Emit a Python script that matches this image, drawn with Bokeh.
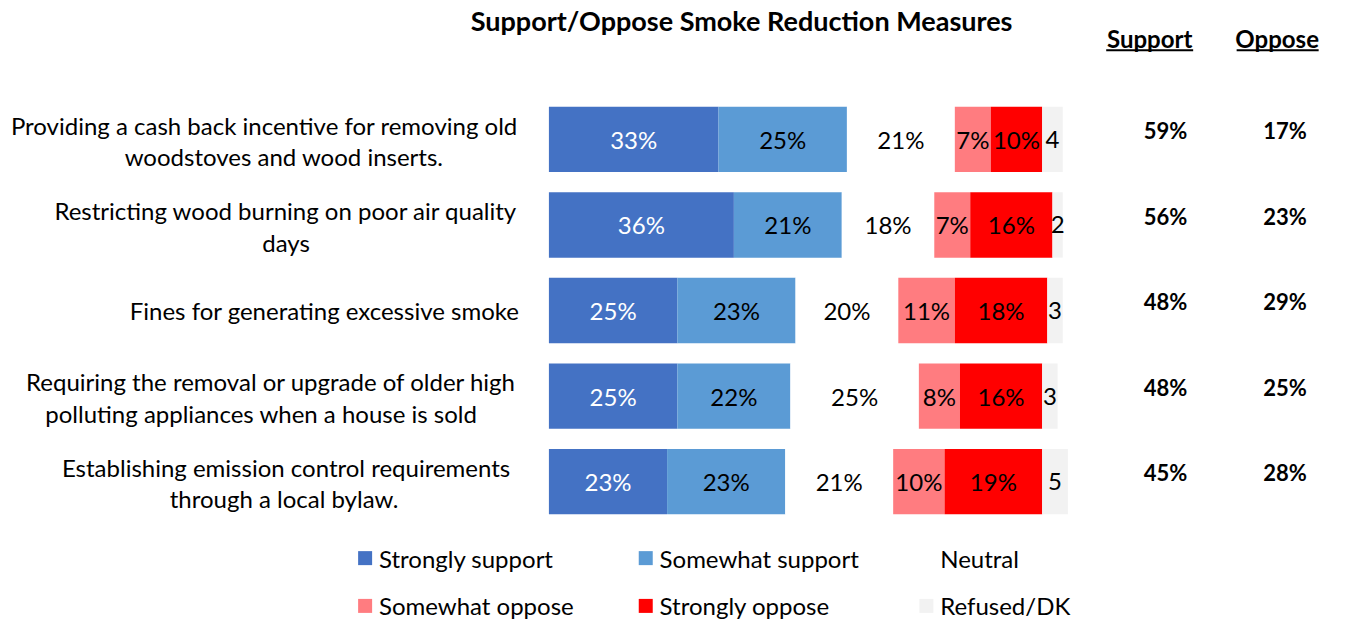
from bokeh.plotting import figure
from bokeh.models import Range1d, ColumnDataSource
from bokeh.core.properties import value
from bokeh.embed import file_html
from bokeh.resources import INLINE

# ---------------- data ----------------
title = "Support/Oppose Smoke Reduction Measures"
item_lines = [
    ["Providing a cash back incentive for removing old", "woodstoves and wood inserts."],
    ["Restricting wood burning on poor air quality", "days"],
    ["Fines for generating excessive smoke"],
    ["Requiring the removal or upgrade of older high", "polluting appliances when a house is sold"],
    ["Establishing emission control requirements", "through a local bylaw."],
]
categories = ["Strongly support", "Somewhat support", "Neutral",
              "Somewhat oppose", "Strongly oppose", "Refused/DK"]
strongly_support = [33, 36, 25, 25, 23]
somewhat_support = [25, 21, 23, 22, 23]
neutral = [21, 18, 20, 25, 21]
somewhat_oppose = [7, 7, 11, 8, 10]
strongly_oppose = [10, 16, 18, 16, 19]
refused = [4, 2, 3, 3, 5]
support_totals = [59, 56, 48, 48, 45]
oppose_totals = [17, 23, 29, 25, 28]
col_headers = ["Support", "Oppose"]
colors = ["#4472C4", "#5B9BD5", "#FFFFFF", "#FF7C80", "#FF0000", "#F2F2F2"]

# ---------------- layout helpers (reference pixels -> data) ----------------
W, H = 1331, 621
REF_W, REF_H = 1347, 637
X0, PPU = 555.0, 5.2          # reference x of 0 %, pixels per %
ROW0, ROWSTEP = 142.5, 87.75  # reference y of first row centre, row step
def dx(px): return (px - X0) / PPU
def dy(py): return (py - ROW0) / ROWSTEP

FONT = value("Lato")
FS = "24px"

p = figure(width=W, height=H, x_range=Range1d(dx(0), dx(REF_W)),
           y_range=Range1d(dy(REF_H), dy(0)),
           x_axis_type=None, y_axis_type=None,
           output_backend="svg", toolbar_location=None, min_border=0)
p.grid.visible = False
p.outline_line_color = None
p.background_fill_color = "white"

series = [strongly_support, somewhat_support, neutral,
          somewhat_oppose, strongly_oppose, refused]
n = len(item_lines)
data = {"y": list(range(n))}
for c, s in zip(categories, series):
    data[c] = s
src = ColumnDataSource(data)
p.hbar_stack(categories, y="y", height=67 / ROWSTEP, color=colors,
             line_color=None, source=src)

# segment labels
lx, ly, lt, lc = [], [], [], []
for i in range(n):
    cum = 0
    for k, s in enumerate(series):
        v = s[i]
        lx.append(cum + v / 2)
        ly.append(i)
        lt.append(f"{v}" if k == 5 else f"{v}%")
        lc.append("white" if k == 0 else "black")
        cum += v
p.text(x=lx, y=ly, text=lt, text_color=lc, text_font=FONT, text_font_size=FS,
       text_align="center", text_baseline="middle")

# category labels (each wrapped line centred)
line_cx = [[267, 287], [289, 289], [328], [274, 264], [289, 287]]
tx, ty, tt = [], [], []
for i, lines in enumerate(item_lines):
    m = len(lines)
    for j, ln in enumerate(lines):
        off = (j - (m - 1) / 2) * 32
        tx.append(dx(line_cx[i][j]))
        ty.append(i + (off + (1.5 if m > 1 else 0)) / ROWSTEP)
        tt.append(ln)
p.text(x=tx, y=ty, text=tt, text_font=FONT, text_font_size=FS,
       text_align="center", text_baseline="middle", text_color="black")

# totals columns
yt = [i - 9 / ROWSTEP for i in range(n)]
p.text(x=[dx(1179)] * n, y=yt, text=[f"{v}%" for v in support_totals],
       text_font=FONT, text_font_size="22px", text_font_style="bold",
       text_align="center", text_baseline="middle")
p.text(x=[dx(1300)] * n, y=yt, text=[f"{v}%" for v in oppose_totals],
       text_font=FONT, text_font_size="22px", text_font_style="bold",
       text_align="center", text_baseline="middle")

# headers + underline
hx = [dx(1163), dx(1292)]
p.text(x=hx, y=[dy(39)] * 2, text=col_headers, text_font=FONT, text_font_size=FS,
       text_font_style="bold", text_align="center", text_baseline="middle")
p.segment(x0=[dx(1119), dx(1251)], y0=[dy(51)] * 2, x1=[dx(1207), dx(1334)],
          y1=[dy(51)] * 2, line_color="black", line_width=2)

# title
p.text(x=[dx(750)], y=[dy(21)], text=[title], text_font=FONT, text_font_size="27px",
       text_font_style="bold", text_align="center", text_baseline="middle")

# legend (manual, 3 columns x 2 rows)
leg_px = [369, 653, 937, 369, 653, 937]
leg_py = [572, 572, 572, 621, 621, 621]
p.scatter(x=[dx(v) for v in leg_px], y=[dy(v) for v in leg_py], marker="square",
          size=14, fill_color=colors, line_color=None)
p.text(x=[dx(v + 14) for v in leg_px], y=[dy(v) for v in leg_py], text=categories,
       text_font=FONT, text_font_size=FS, text_align="left", text_baseline="middle")

open("out.html", "w").write(file_html(p, INLINE))
